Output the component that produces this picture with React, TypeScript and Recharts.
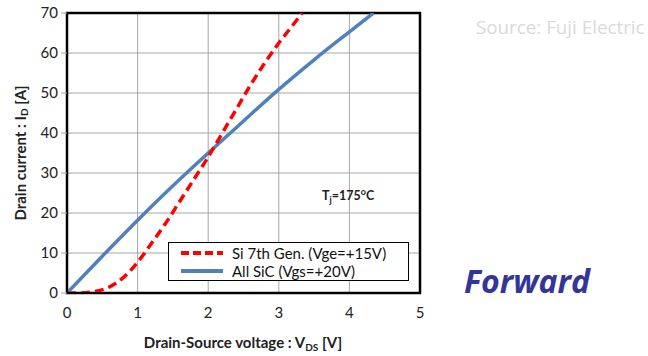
import React from 'react';
import {
  LineChart,
  Line,
  XAxis,
  YAxis,
  CartesianGrid,
  ReferenceArea,
  Label,
} from 'recharts';

// Output characteristics at Tj = 175 °C
const siVoltage = [0, 0.2, 0.4, 0.6, 0.8, 1.0, 1.2, 1.4, 1.6, 1.8, 2.0, 2.2, 2.4, 2.6, 2.8, 3.0, 3.2, 3.33];
const siCurrent = [0, 0, 0.4, 1.5, 3.9, 7.7, 12.5, 17.5, 23, 28.5, 34, 40, 46, 52, 57.5, 62.5, 67, 70];

const sicVoltage = [0, 0.5, 1.0, 1.5, 2.0, 2.5, 3.0, 3.5, 4.0, 4.34];
const sicCurrent = [0, 9.2, 18.2, 26.8, 35, 43, 50.9, 58.3, 65.3, 70];

const xTicks = [0, 1, 2, 3, 4, 5];
const yTicks = [0, 10, 20, 30, 40, 50, 60, 70];

const siName = 'Si 7th Gen. (Vge=+15V)';
const sicName = 'All SiC (Vgs=+20V)';

const siData = siVoltage.map((v, i) => ({ v, id: siCurrent[i] }));
const sicData = sicVoltage.map((v, i) => ({ v, id: sicCurrent[i] }));

const FONT = 'Lato, "Open Sans", sans-serif';

const legendItems = [
  { name: siName, color: '#ff0000', dash: '8 4' },
  { name: sicName, color: '#4f81bd', dash: undefined },
];

const LegendBox = () => (
  <div
    style={{
      position: 'absolute',
      left: 168,
      top: 242,
      border: '1px solid #000',
      background: '#fff',
      width: 241,
      height: 39,
      boxSizing: 'border-box',
      padding: '1px 0 0 11px',
      fontFamily: FONT,
      fontSize: 15,
      color: '#111',
      lineHeight: '18px',
    }}
  >
    {legendItems.map((item) => (
      <div key={item.name} style={{ display: 'flex', alignItems: 'center', height: 18 }}>
        <svg width={44} height={10} style={{ marginRight: 8 }}>
          <line x1={1} y1={5} x2={43} y2={5} stroke={item.color} strokeWidth={4} strokeDasharray={item.dash} />
        </svg>
        <span>{item.name}</span>
      </div>
    ))}
  </div>
);

export default function App() {
  return (
    <div style={{ position: 'absolute', left: 0, top: 0, width: 648, height: 356, background: '#fff', fontFamily: FONT }}>
      <LineChart width={648} height={356} margin={{ top: 13, right: 228, left: 0, bottom: 33 }}>
        <CartesianGrid stroke="#a6a6a6" strokeWidth={1} />
        <XAxis
          type="number"
          dataKey="v"
          domain={[0, 5]}
          ticks={xTicks}
          allowDataOverflow
          height={30}
          tickLine={false}
          axisLine={{ stroke: '#000', strokeWidth: 2 }}
          tick={{ fill: '#222', fontSize: 15, fontFamily: FONT }}
          tickMargin={8}
        >
          <Label
            value="Drain-Source voltage : VDS [V]"
            content={() => (
              <text x={243} y={348} textAnchor="middle" fontFamily={FONT} fontSize={15} fontWeight="bold" fill="#222">
                Drain-Source voltage : V
                <tspan fontSize={10} dy={3}>DS</tspan>
                <tspan dy={-3}> [V]</tspan>
              </text>
            )}
          />
        </XAxis>
        <YAxis
          type="number"
          domain={[0, 70]}
          ticks={yTicks}
          allowDataOverflow
          width={67}
          tickSize={6}
          tickLine={{ stroke: '#a6a6a6' }}
          axisLine={{ stroke: '#000', strokeWidth: 2 }}
          tick={{ fill: '#222', fontSize: 15, fontFamily: FONT }}
          tickMargin={3}
        >
          <Label
            value="Drain current : ID [A]"
            content={() => (
              <text
                x={22}
                y={153}
                transform="rotate(-90 22 153)"
                textAnchor="middle"
                dominantBaseline="middle"
                fontFamily={FONT}
                fontSize={15}
                fontWeight="bold"
                fill="#222"
              >
                Drain current : I
                <tspan fontSize={10} dy={3}>D</tspan>
                <tspan dy={-3}> [A]</tspan>
              </text>
            )}
          />
        </YAxis>
        <ReferenceArea x1={0} x2={5} y1={0} y2={70} fill="none" stroke="#000" strokeWidth={2.5} />
        <Line
          data={sicData}
          dataKey="id"
          name={sicName}
          type="monotone"
          stroke="#4f81bd"
          strokeWidth={3.5}
          dot={false}
          isAnimationActive={false}
        />
        <Line
          data={siData}
          dataKey="id"
          name={siName}
          type="monotone"
          stroke="#ff0000"
          strokeWidth={3.5}
          strokeDasharray="9 5"
          dot={false}
          isAnimationActive={false}
        />
      </LineChart>
      <LegendBox />
      <div
        style={{
          position: 'absolute',
          left: 322,
          top: 186,
          fontSize: 12.5,
          fontWeight: 'bold',
          color: '#222',
          fontFamily: FONT,
        }}
      >
        T<sub style={{ fontSize: 9, verticalAlign: -3 }}>j</sub>=175<sup style={{ fontSize: 9 }}>o</sup>C
      </div>
      <div
        style={{
          position: 'absolute',
          left: 476,
          top: 14,
          fontSize: 18.8,
          color: '#d9d9d9',
          fontFamily: '"Open Sans", sans-serif',
        }}
      >
        Source: Fuji Electric
      </div>
      <div
        style={{
          position: 'absolute',
          left: 464,
          top: 259,
          fontSize: 32,
          fontWeight: 'bold',
          fontStyle: 'italic',
          color: '#33359a',
          fontFamily: '"Open Sans", sans-serif',
        }}
      >
        Forward
      </div>
    </div>
  );
}
